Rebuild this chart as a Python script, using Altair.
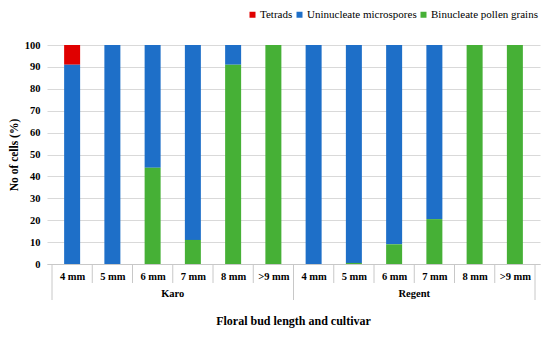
import altair as alt
import pandas as pd

cultivars = ["Karo"] * 6 + ["Regent"] * 6
lengths = ["4 mm", "5 mm", "6 mm", "7 mm", "8 mm", ">9 mm"] * 2
tetrads = [9, 0, 0, 0, 0, 0, 0, 0, 0, 0, 0, 0]
uninucleate = [91, 100, 56, 89, 9, 0, 100, 99.5, 91, 79.5, 0, 0]
binucleate = [0, 0, 44, 11, 91, 100, 0, 0.5, 9, 20.5, 100, 100]

stages = ["Tetrads", "Uninucleate microspores", "Binucleate pollen grains"]
colors = ["#E00000", "#1E6FC8", "#46B036"]
stack_order = {"Binucleate pollen grains": 0, "Uninucleate microspores": 1, "Tetrads": 2}

rows = []
for i in range(12):
    for s, vals in zip(stages, [tetrads, uninucleate, binucleate]):
        rows.append({"idx": i, "cultivar": cultivars[i], "length": lengths[i],
                     "stage": s, "value": vals[i], "ord": stack_order[s]})
df = pd.DataFrame(rows)

W, H = 493, 219
FONT = "Liberation Serif"
label_arr = "[" + ",".join("'" + l + "'" for l in lengths) + "]"

xscale = alt.Scale(domain=[-0.5, 11.5], nice=False, zero=False)

bars = alt.Chart(df).mark_bar(size=16).encode(
    x=alt.X("idx:Q", scale=xscale,
            axis=alt.Axis(values=list(range(12)), labelExpr=label_arr + "[datum.value]",
                          ticks=False, grid=False, domainColor="#c8c8c8",
                          labelFont=FONT, labelFontWeight="bold", labelFontSize=10.5,
                          labelColor="#000", labelPadding=7, title=None)),
    y=alt.Y("value:Q", stack="zero",
            scale=alt.Scale(domain=[0, 100], nice=False),
            axis=alt.Axis(values=list(range(0, 101, 10)), title="No of cells (%)",
                          titleFont=FONT, titleFontWeight="bold", titleFontSize=11.5,
                          titleColor="#000", titlePadding=5,
                          labelFont=FONT, labelFontWeight="bold", labelFontSize=10.5,
                          labelColor="#000", labelPadding=7,
                          ticks=False, domain=False, gridColor="#d9d9d9")),
    color=alt.Color("stage:N", scale=alt.Scale(domain=stages, range=colors),
                    legend=alt.Legend(title=None, orient="none", direction="horizontal",
                                      legendX=200, legendY=-36, symbolType="square",
                                      symbolSize=36, symbolStrokeWidth=0,
                                      labelOffset=2, columnPadding=1, padding=0)),
    order=alt.Order("ord:Q"),
)

short_pos = [i + 0.5 for i in range(11) if i != 5]
long_pos = [-0.5, 5.5, 11.5]

seps_short = alt.Chart(pd.DataFrame({"pos": short_pos})).mark_rule(
    color="#c8c8c8", clip=False).encode(
    x=alt.X("pos:Q", scale=xscale),
    y=alt.value(H), y2=alt.value(H + 19))
seps_long = alt.Chart(pd.DataFrame({"pos": long_pos})).mark_rule(
    color="#c8c8c8", clip=False).encode(
    x=alt.X("pos:Q", scale=xscale),
    y=alt.value(H), y2=alt.value(H + 36))

cult_df = pd.DataFrame({"pos": [2.5, 8.5], "name": ["Karo", "Regent"]})
cult_text = alt.Chart(cult_df).mark_text(font=FONT, fontWeight="bold", fontSize=10.5,
                                         color="#000", clip=False).encode(
    x=alt.X("pos:Q", scale=xscale), y=alt.value(H + 30), text="name:N")

title_df = pd.DataFrame({"pos": [5.5], "t": ["Floral bud length and cultivar"]})
title_text = alt.Chart(title_df).mark_text(font=FONT, fontWeight="bold", fontSize=12,
                                           color="#000", clip=False).encode(
    x=alt.X("pos:Q", scale=xscale), y=alt.value(H + 57), text="t:N")

chart = alt.layer(bars, seps_short, seps_long, cult_text, title_text).properties(
    width=W, height=H,
    autosize=alt.AutoSizeParams(type="none"),
    padding={"left": 39, "top": 37, "right": 2, "bottom": 69},
).configure(font=FONT).configure_legend(
    labelFont=FONT, labelFontSize=11, labelColor="#000"
).configure_view(stroke=None)

chart.save("out.html", embed_options={"renderer": "svg", "actions": False})
